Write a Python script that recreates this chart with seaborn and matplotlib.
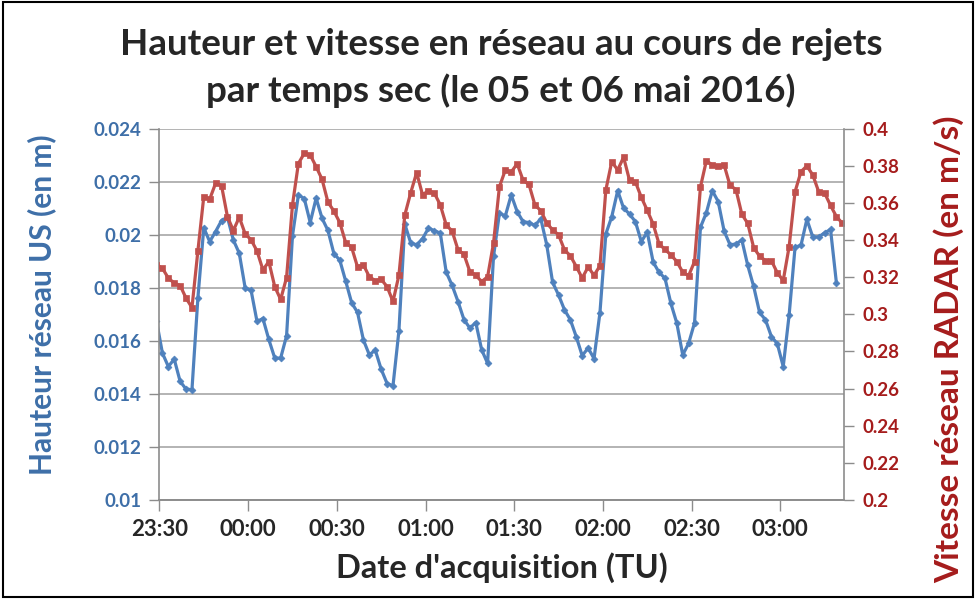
import pandas as pd
import numpy as np
import seaborn as sns
import matplotlib.pyplot as plt
import matplotlib.dates as mdates
from matplotlib.patches import Rectangle

# acquisition every 2 minutes, first sample just before the axis start
times = pd.date_range("2016-05-05 23:29", periods=117, freq="2min")

# Hauteur reseau US (m)
hauteur = [
    0.01675,
    0.01554, 0.01503, 0.01531, 0.01447, 0.01418, 0.01416, 0.01761, 0.02026, 0.01974, 0.02012,
    0.02053, 0.02066, 0.01980, 0.01930, 0.01799, 0.01790, 0.01673, 0.01684, 0.01605, 0.01535,
    0.01535, 0.01619, 0.01996, 0.02150, 0.02136, 0.02046, 0.02138, 0.02062, 0.02016, 0.01929,
    0.01904, 0.01825, 0.01744, 0.01707, 0.01603, 0.01547, 0.01565, 0.01493, 0.01439, 0.01431,
    0.01637, 0.02040, 0.01969, 0.01962, 0.01985, 0.02025, 0.02015, 0.02006, 0.01859, 0.01809,
    0.01748, 0.01680, 0.01648, 0.01669, 0.01566, 0.01515, 0.01918, 0.02081, 0.02071, 0.02150,
    0.02087, 0.02049, 0.02046, 0.02035, 0.02060, 0.01962, 0.01820, 0.01773, 0.01717, 0.01679,
    0.01615, 0.01544, 0.01573, 0.01533, 0.01706, 0.02003, 0.02068, 0.02166, 0.02100, 0.02078,
    0.02049, 0.01974, 0.02010, 0.01897, 0.01858, 0.01836, 0.01741, 0.01667, 0.01547, 0.01590,
    0.01668, 0.02028, 0.02083, 0.02166, 0.02125, 0.02014, 0.01962, 0.01965, 0.01980, 0.01884,
    0.01805, 0.01707, 0.01679, 0.01616, 0.01589, 0.01503, 0.01698, 0.01953, 0.01960, 0.02058,
    0.01991, 0.01992, 0.02007, 0.02020, 0.01817, np.nan,
]

# Vitesse reseau RADAR (m/s)
vitesse = [
    0.3266,
    0.3248, 0.3195, 0.3168, 0.3155, 0.3087, 0.3036, 0.3341, 0.3634, 0.3620, 0.3706,
    0.3693, 0.3526, 0.3451, 0.3523, 0.3433, 0.3401, 0.3341, 0.3239, 0.3284, 0.3149,
    0.3080, 0.3198, 0.3589, 0.3812, 0.3867, 0.3858, 0.3795, 0.3727, 0.3604, 0.3556,
    0.3494, 0.3386, 0.3361, 0.3255, 0.3266, 0.3202, 0.3181, 0.3188, 0.3149, 0.3069,
    0.3210, 0.3535, 0.3655, 0.3763, 0.3643, 0.3666, 0.3652, 0.3589, 0.3481, 0.3448,
    0.3347, 0.3323, 0.3230, 0.3210, 0.3176, 0.3202, 0.3383, 0.3687, 0.3777, 0.3766,
    0.3811, 0.3722, 0.3699, 0.3589, 0.3558, 0.3492, 0.3454, 0.3428, 0.3347, 0.3315,
    0.3257, 0.3195, 0.3255, 0.3210, 0.3261, 0.3670, 0.3822, 0.3777, 0.3846, 0.3722,
    0.3713, 0.3630, 0.3560, 0.3486, 0.3379, 0.3349, 0.3320, 0.3284, 0.3227, 0.3208,
    0.3284, 0.3686, 0.3827, 0.3804, 0.3799, 0.3804, 0.3694, 0.3672, 0.3539, 0.3489,
    0.3359, 0.3313, 0.3289, 0.3289, 0.3223, 0.3182, 0.3365, 0.3660, 0.3768, 0.3799,
    0.3750, 0.3660, 0.3653, 0.3586, 0.3526, 0.3490,
]

left_ticks = [0.01, 0.012, 0.014, 0.016, 0.018, 0.02, 0.022, 0.024]
right_ticks = [0.2, 0.22, 0.24, 0.26, 0.28, 0.3, 0.32, 0.34, 0.36, 0.38, 0.4]
x_ticks = pd.date_range("2016-05-05 23:30", "2016-05-06 03:00", freq="30min")

df = pd.DataFrame({"time": times, "hauteur": hauteur, "vitesse": vitesse})

sns.set_style("white")
plt.rcParams['font.family'] = ['Lato', 'DejaVu Sans']

blue = "#4F81BD"
red = "#C0504D"
blue_txt = "#3E6FA8"
red_txt = "#A51C1C"
grid_col = "#B3B3B3"
axis_col = "#8C8C8C"

fig, ax = plt.subplots(figsize=(9.77, 5.99), dpi=100)
fig.subplots_adjust(left=0.1632, right=0.8634, top=0.7853, bottom=0.1653)
ax2 = ax.twinx()

sns.lineplot(data=df, x="time", y="hauteur", ax=ax, color=blue, lw=2.3,
             marker="D", markersize=3.5, markeredgecolor=blue, markeredgewidth=0.5)
sns.lineplot(data=df, x="time", y="vitesse", ax=ax2, color=red, lw=2.3,
             marker="s", markersize=4.8, markeredgecolor=red, markeredgewidth=0.5)

x0 = pd.Timestamp("2016-05-05 23:30")
ax.set_xlim(x0, x0 + pd.Timedelta(minutes=231.4))
ax.set_ylim(0.01, 0.024)
ax2.set_ylim(0.2, 0.4)

ax.set_xticks(x_ticks)
ax.xaxis.set_major_formatter(mdates.DateFormatter("%H:%M"))
ax.set_yticks(left_ticks)
ax.set_yticklabels([f"{v:g}" for v in left_ticks])
ax2.set_yticks(right_ticks)
ax2.set_yticklabels([f"{v:g}" for v in right_ticks])

ax.yaxis.grid(True, color=grid_col, lw=1.4)
ax.xaxis.grid(False)

for a in (ax, ax2):
    for s in a.spines.values():
        s.set_visible(False)
    a.spines["bottom"].set_visible(True)
    a.spines["bottom"].set_color(axis_col)
ax.spines["left"].set_visible(True)
ax.spines["left"].set_color(axis_col)
ax2.spines["right"].set_visible(True)
ax2.spines["right"].set_color(axis_col)
for a in (ax, ax2):
    for s in a.spines.values():
        s.set_linewidth(1.2)

ax.tick_params(axis="x", direction="out", length=8, width=1, color=axis_col,
               labelsize=16, pad=6, bottom=True)
ax.tick_params(axis="y", direction="out", length=7, width=1, color=axis_col,
               labelcolor=blue_txt, labelsize=13.5, pad=6, left=True)
ax2.tick_params(axis="y", direction="out", length=7, width=1, color=axis_col,
                labelcolor=red_txt, labelsize=13.5, pad=7, right=True)
for lab in ax.get_xticklabels() + ax.get_yticklabels() + ax2.get_yticklabels():
    lab.set_fontweight("bold")

ax.set_xlabel("Date d'acquisition (TU)", fontsize=23.5, fontweight="bold")
ax.set_ylabel("Hauteur réseau US (en m)", fontsize=21.5, fontweight="bold", color=blue_txt)
ax2.set_ylabel("Vitesse réseau RADAR (en m/s)", fontsize=24, fontweight="bold", color=red_txt)
ax.yaxis.set_label_coords(-0.151, 0.525)
ax2.yaxis.set_label_coords(1.132, 0.407)
ax.xaxis.set_label_coords(0.5, -0.14)

fig.text(0.513, 0.925, "Hauteur et vitesse en réseau au cours de rejets",
         ha="center", va="center", fontsize=26.5, fontweight="bold")
fig.text(0.513, 0.848, "par temps sec (le 05 et 06 mai 2016)",
         ha="center", va="center", fontsize=26.5, fontweight="bold")

fig.patches.append(Rectangle((0.003, 0.004), 0.993, 0.992, transform=fig.transFigure,
                             fill=False, ec="black", lw=1.5))

fig.savefig("out.png", dpi=100)
